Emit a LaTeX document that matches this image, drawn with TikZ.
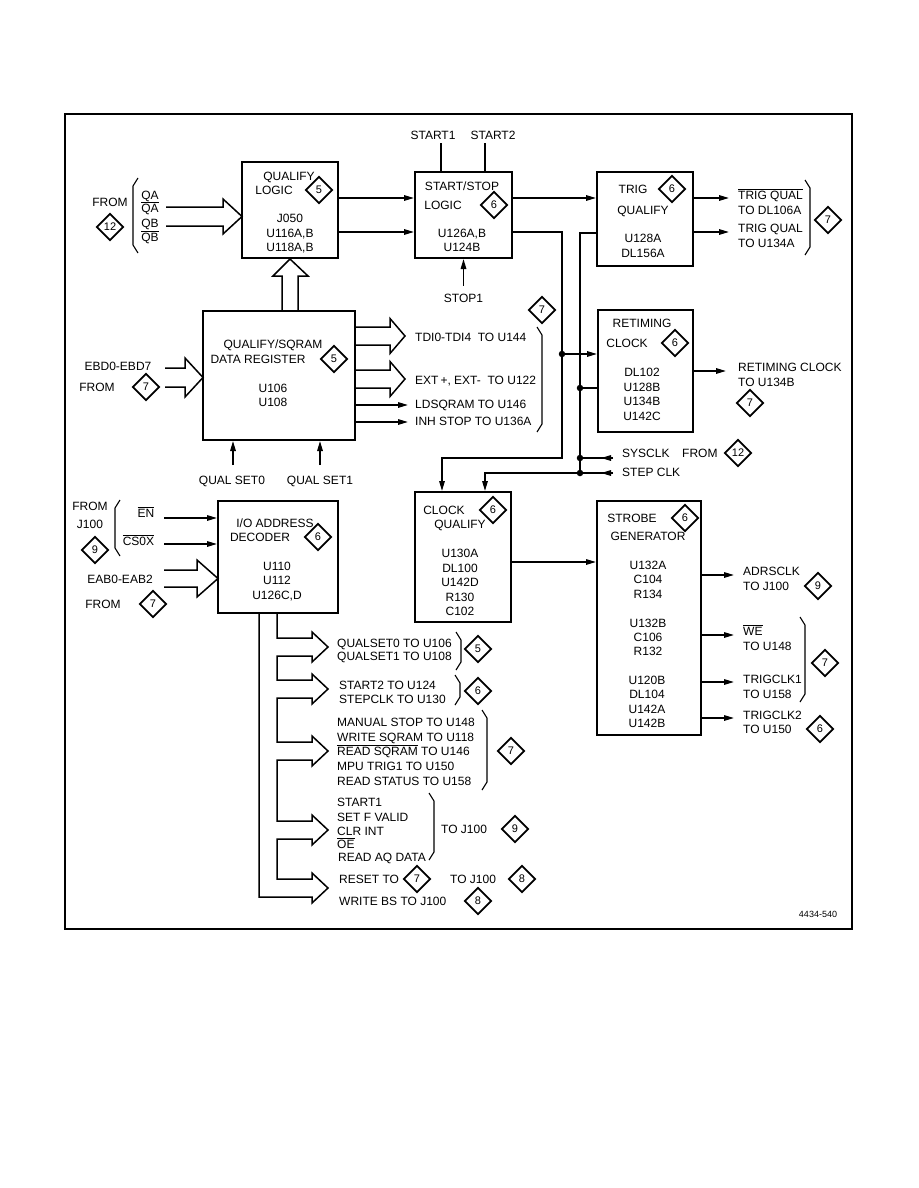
\documentclass[tikz,border=0pt]{standalone}
\usepackage{fontspec}
\setmainfont{Liberation Sans}
\usetikzlibrary{arrows.meta,shapes.geometric}
\newcommand{\olx}[1]{$\overline{\mbox{#1}}$}
\newcommand{\txtn}[4][]{\node[txt,#1] (#2) at (#3) {#4};}
\newcommand{\dmd}[3]{\node[dia] (#1) at (#2) {#3};}
\newcommand{\lbrk}[3]{\draw[brk] ({#1+5},#2) -- (#1,{#2+8}) -- (#1,{#3-8}) -- ({#1+5},#3);}
\newcommand{\rbrk}[3]{\draw[brk] ({#1-5},#2) -- (#1,{#2+8}) -- (#1,{#3-8}) -- ({#1-5},#3);}
\newcommand{\busarrow}[6]{\draw[bus] (#1,{#4-#5}) -- (#2,{#4-#5}) -- (#2,{#4-#6}) -- (#3,#4) -- (#2,{#4+#6}) -- (#2,{#4+#5}) -- (#1,{#4+#5});}
\begin{document}
\begin{tikzpicture}[x=1pt,y=-1pt,
  box/.style={draw,line width=2pt,inner sep=0pt},
  sig/.style={line width=1.5pt,-{Triangle[length=10pt,width=5.5pt]}},
  ln/.style={line width=1.5pt},
  bus/.style={line width=1.5pt,line join=miter},
  brk/.style={line width=1.1pt},
  dot/.style={circle,fill,inner sep=0pt,minimum size=6.5pt},
  dia/.style={draw,diamond,line width=1.7pt,minimum width=27pt,minimum height=27pt,inner sep=0pt,font=\fontsize{11}{11}\selectfont},
  txt/.style={inner sep=0pt,text height=8.6pt,text depth=0pt,font=\fontsize{12}{14}\selectfont},
  lt/.style={anchor=west}]
\useasboundingbox (0,0) rectangle (918,1188);
\fill[white] (0,0) rectangle (918,1188);
\draw[line width=2.2pt] (65,114) rectangle (852,929);

% boxes
\node[box,minimum width=96pt,minimum height=96pt] (qlogic) at (290,210) {};
\node[box,minimum width=97pt,minimum height=86pt] (sslogic) at (463.5,215) {};
\node[box,minimum width=96pt,minimum height=94pt] (trigq) at (645,219) {};
\node[box,minimum width=152pt,minimum height=129pt] (dreg) at (279,375.5) {};
\node[box,minimum width=95pt,minimum height=122pt] (retime) at (645.5,371) {};
\node[box,minimum width=120pt,minimum height=112pt] (iodec) at (278,557) {};
\node[box,minimum width=96pt,minimum height=130pt] (clkq) at (463,557) {};
\node[box,minimum width=104pt,minimum height=234pt] (strobe) at (649,618) {};

% box texts
\txtn{ql1}{289,176}{QUALIFY}
\txtn{ql2}{274,190}{LOGIC}
\txtn{ql3}{290,218}{J050}
\txtn{ql4}{290,233}{U116A,B}
\txtn{ql5}{290,247}{U118A,B}
\txtn{ss1}{462,186}{START/STOP}
\txtn{ss2}{443,205}{LOGIC}
\txtn{ss3}{462,233}{U126A,B}
\txtn{ss4}{462,247}{U124B}
\txtn{tq1}{633,189}{TRIG}
\txtn{tq2}{643,210}{QUALIFY}
\txtn{tq3}{643,238}{U128A}
\txtn{tq4}{643,253}{DL156A}
\txtn{dr1}{273,344}{QUALIFY/SQRAM}
\txtn{dr2}{258,359}{DATA REGISTER}
\txtn{dr3}{273,388}{U106}
\txtn{dr4}{273,402}{U108}
\txtn{rt1}{642,323}{RETIMING}
\txtn{rt2}{627,343}{CLOCK}
\txtn{rt3}{642,372}{DL102}
\txtn{rt4}{642,387}{U128B}
\txtn{rt5}{642,401}{U134B}
\txtn{rt6}{642,416}{U142C}
\txtn{io1}{275,523}{I/O ADDRESS}
\txtn{io2}{260,537}{DECODER}
\txtn{io3}{277,566}{U110}
\txtn{io4}{277,580}{U112}
\txtn{io5}{277,595}{U126C,D}
\txtn{cq1}{444,510}{CLOCK}
\txtn{cq2}{460,524}{QUALIFY}
\txtn{cq3}{460,553}{U130A}
\txtn{cq4}{460,568}{DL100}
\txtn{cq5}{460,582}{U142D}
\txtn{cq6}{460,597}{R130}
\txtn{cq7}{460,611}{C102}
\txtn{sg1}{632,518}{STROBE}
\txtn{sg2}{648,536}{GENERATOR}
\txtn{sg3}{648,565}{U132A}
\txtn{sg4}{648,579}{C104}
\txtn{sg5}{648,594}{R134}
\txtn{sg6}{648,623}{U132B}
\txtn{sg7}{648,637}{C106}
\txtn{sg8}{648,651}{R132}
\txtn{sg9}{647,680}{U120B}
\txtn{sg10}{647,694}{DL104}
\txtn{sg11}{647,709}{U142A}
\txtn{sg12}{647,723}{U142B}

% outside labels
\txtn{fr1}{110,202}{FROM}
\txtn{qa1}{150,195}{QA}
\txtn{qa2}{150,208}{\olx{QA}}
\txtn{qb1}{150,223}{QB}
\txtn{qb2}{150,237}{\olx{QB}}
\txtn{st1}{433,135}{START1}
\txtn{st2}{493,135}{START2}
\txtn{sp1}{463.5,298}{STOP1}
\txtn[lt]{tqo1}{738,195}{\olx{TRIG QUAL}}
\txtn[lt]{tqo2}{738,210}{TO DL106A}
\txtn[lt]{tqo3}{738,228}{TRIG QUAL}
\txtn[lt]{tqo4}{738,243}{TO U134A}
\txtn[lt]{do1}{415,337}{TDI0-TDI4\ \ TO U144}
\txtn[lt]{do2}{415,380}{EXT\,+, EXT-\ \ TO U122}
\txtn[lt]{do3}{415,404}{LDSQRAM TO U146}
\txtn[lt]{do4}{415,421}{INH STOP TO U136A}
\txtn{eb1}{118,366}{EBD0-EBD7}
\txtn{eb2}{97,387}{FROM}
\txtn{qs0}{232,480}{QUAL SET0}
\txtn{qs1}{320,480}{QUAL SET1}
\txtn[lt]{ro1}{738,367}{RETIMING CLOCK}
\txtn[lt]{ro2}{738,382}{TO U134B}
\txtn[lt]{sysclk}{622,453}{SYSCLK}
\txtn[lt]{sy2}{682,453}{FROM}
\txtn[lt]{stepclk}{622,472}{STEP CLK}
\txtn{fj1}{90,506}{FROM}
\txtn{fj2}{90,524}{J100}
\txtn{en}{146,513}{\olx{EN}}
\txtn{cs}{138.5,541}{\olx{CS0X}}
\txtn{ea1}{120,579}{EAB0-EAB2}
\txtn{ea2}{103,604}{FROM}
\txtn[lt]{ad1}{743,571}{ADRSCLK}
\txtn[lt]{ad2}{743,586}{TO J100}
\txtn[lt]{we1}{743,631}{\olx{WE}}
\txtn[lt]{we2}{743,646}{TO U148}
\txtn[lt]{tc1}{743,679}{TRIGCLK1}
\txtn[lt]{tc2}{743,694}{TO U158}
\txtn[lt]{tc3}{743,715}{TRIGCLK2}
\txtn[lt]{tc4}{743,729}{TO U150}
\node[inner sep=0pt,font=\fontsize{9}{10}\selectfont] (fig) at (818,914) {4434-540};

% bus labels
\txtn[lt]{b1}{337,643}{QUALSET0 TO U106}
\txtn[lt]{b2}{337,656}{QUALSET1 TO U108}
\txtn[lt]{b3}{339,685}{START2 TO U124}
\txtn[lt]{b4}{339,699}{STEPCLK TO U130}
\txtn[lt]{b5}{337,722}{MANUAL STOP TO U148}
\txtn[lt]{b6}{337,737}{WRITE SQRAM TO U118}
\txtn[lt]{b7}{337,751}{\olx{READ SQRAM} TO U146}
\txtn[lt]{b8}{337,766}{MPU TRIG1 TO U150}
\txtn[lt]{b9}{337,781}{READ STATUS TO U158}
\txtn[lt]{b10}{337,802}{START1}
\txtn[lt]{b11}{337,817}{SET F VALID}
\txtn[lt]{b12}{337,831}{CLR INT}
\txtn[lt]{b13}{337,844}{\olx{OE}}
\txtn[lt]{b14}{338,857}{READ AQ DATA}
\txtn[lt]{b15}{441,829}{TO J100}
\txtn[lt]{b16}{339,879}{RESET TO}
\txtn[lt]{b17}{450,879}{TO J100}
\txtn[lt]{b18}{339,901}{WRITE BS TO J100}

% diamonds
\dmd{k1}{110,227}{12}
\dmd{k2}{319,190}{5}
\dmd{k3}{494,205}{6}
\dmd{k4}{672,189}{6}
\dmd{k5}{828,220}{7}
\dmd{k6}{146,387}{7}
\dmd{k7}{334,359}{5}
\dmd{k8}{542,310}{7}
\dmd{k9}{675,343}{6}
\dmd{k10}{750,403}{7}
\dmd{k11}{738,453}{12}
\dmd{k12}{95,550}{9}
\dmd{k13}{153,604}{7}
\dmd{k14}{318,537}{6}
\dmd{k15}{493,510}{6}
\dmd{k16}{685,518}{6}
\dmd{k17}{818,586}{9}
\dmd{k18}{825,663}{7}
\dmd{k19}{820,729}{6}
\dmd{k20}{478,649}{5}
\dmd{k21}{478,691}{6}
\dmd{k22}{511,751}{7}
\dmd{k23}{515,829}{9}
\dmd{k24}{417,879}{7}
\dmd{k25}{522,879}{8}
\dmd{k26}{478,901}{8}

% brackets
\lbrk{133}{178}{253}
\rbrk{810}{180}{255}
\rbrk{542}{327}{432}
\lbrk{115}{500}{556}
\rbrk{805}{617}{702}
\rbrk{461}{632}{670}
\rbrk{460}{675}{705}
\rbrk{487}{710}{790}
\rbrk{434}{793}{860}

% hollow bus arrows
\busarrow{166}{223}{242}{216.5}{9.5}{17.5}
\busarrow{165}{185}{203}{377.5}{9.5}{19.5}
\busarrow{355}{390}{405}{336}{9}{17.5}
\busarrow{355}{390}{405}{379}{9}{17.5}
\busarrow{164}{197}{218}{578.5}{8.5}{18.5}
\draw[bus] (dreg.north -| 282,0) -- (282,276) -- (273,276) -- (qlogic.south) -- (308,276) -- (298,276) -- (dreg.north -| 298,0);
% I/O decoder output bus
\draw[bus] (iodec.south -| 277,0) -- (277,638) -- (312,638) -- (312,632) -- (328,647) -- (312,662) -- (312,656)
  -- (277,656) -- (277,680) -- (312,680) -- (312,674) -- (328,689) -- (312,704) -- (312,698)
  -- (277,698) -- (277,742) -- (312,742) -- (312,736) -- (328,751) -- (312,766) -- (312,760)
  -- (277,760) -- (277,821) -- (312,821) -- (312,815) -- (328,830) -- (312,845) -- (312,839)
  -- (277,839) -- (277,879) -- (312,879) -- (312,873) -- (328,888) -- (312,903) -- (312,897)
  -- (259,897) -- (iodec.south -| 259,0);

% dots
\node[dot] (d1) at (562,354) {};
\node[dot] (d2) at (580,388) {};
\node[dot] (d3) at (580,458) {};
\node[dot] (d4) at (580,473) {};

% signal connectors
\draw[sig] (qlogic.east |- 0,198) -- (sslogic.west |- 0,198);
\draw[sig] (qlogic.east |- 0,232) -- (sslogic.west |- 0,232);
\draw[ln] (441,143) -- (sslogic.north -| 441,0);
\draw[ln] (485,143) -- (sslogic.north -| 485,0);
\draw[sig] ([yshift=8pt]sp1.north) -- (sslogic.south);
\draw[sig] (sslogic.east |- 0,198) -- (trigq.west |- 0,198);
\draw[sig] (trigq.east |- 0,198) -- ++(35,0);
\draw[sig] (trigq.east |- 0,232) -- ++(35,0);
\draw[sig] (sslogic.east |- 0,232) -- (562,232) -- (562,458) -- (442,458) -- (clkq.north -| 442,0);
\draw[sig] (d1.center) -- (retime.west |- d1);
\draw[ln] (trigq.west |- 0,233) -- (580,233) -- (d4.center);
\draw[ln] (d2.center) -- (retime.west |- d2);
\draw[sig] (retime.east |- 0,371) -- ++(32,0);
\draw[ln] (d3.center) -- ([xshift=-9pt]sysclk.west |- d3);
\draw[sig] ([xshift=-9pt]sysclk.west |- d3) -- ++(-12,0);
\draw[ln] (d4.center) -- ([xshift=-9pt]stepclk.west |- d4);
\draw[sig] ([xshift=-9pt]stepclk.west |- d4) -- ++(-12,0);
\draw[sig] (d4.center) -- (485,473) -- (clkq.north -| 485,0);
\draw[sig] (dreg.east |- 0,405) -- ++(52,0);
\draw[sig] (dreg.east |- 0,422) -- ++(52,0);
\draw[sig] (233,465) -- (dreg.south -| 233,0);
\draw[sig] (320,465) -- (dreg.south -| 320,0);
\draw[sig] (164,518) -- (iodec.west |- 0,518);
\draw[sig] (164,544) -- (iodec.west |- 0,544);
\draw[sig] (clkq.east |- 0,562) -- (strobe.west |- 0,562);
\draw[sig] (strobe.east |- 0,575) -- ++(32,0);
\draw[sig] (strobe.east |- 0,635) -- ++(32,0);
\draw[sig] (strobe.east |- 0,682) -- ++(32,0);
\draw[sig] (strobe.east |- 0,718) -- ++(32,0);
\end{tikzpicture}
\end{document}
